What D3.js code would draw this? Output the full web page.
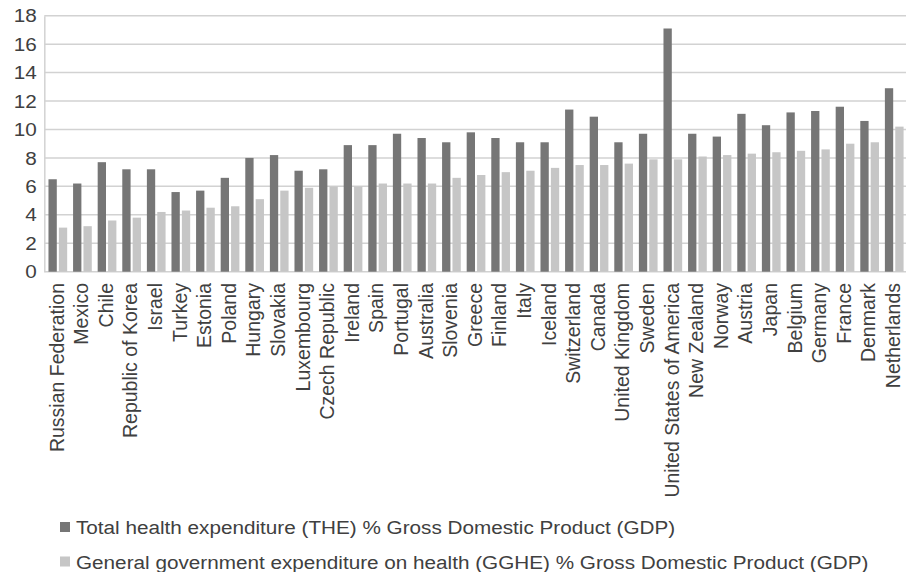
<!DOCTYPE html>
<html>
<head>
<meta charset="utf-8">
<script src="https://cdn.jsdelivr.net/npm/d3@7"></script>
<style>
  body { margin: 0; background: #fff; }
  svg text { font-family: "Liberation Sans", Arial, sans-serif; fill: #404040; }
</style>
</head>
<body>
<svg id="chart" width="906" height="572"></svg>
<script>
var countries = [
  "Russian Federation", "Mexico", "Chile", "Republic of Korea", "Israel",
  "Turkey", "Estonia", "Poland", "Hungary", "Slovakia", "Luxembourg",
  "Czech Republic", "Ireland", "Spain", "Portugal", "Australia", "Slovenia",
  "Greece", "Finland", "Italy", "Iceland", "Switzerland", "Canada",
  "United Kingdom", "Sweden", "United States of America", "New Zealand",
  "Norway", "Austria", "Japan", "Belgium", "Germany", "France", "Denmark",
  "Netherlands"
];

// THE % GDP
var theValues = [
  6.5, 6.2, 7.7, 7.2, 7.2, 5.6, 5.7, 6.6, 8.0, 8.2, 7.1,
  7.2, 8.9, 8.9, 9.7, 9.4, 9.1, 9.8, 9.4, 9.1, 9.1, 11.4,
  10.9, 9.1, 9.7, 17.1, 9.7, 9.5, 11.1, 10.3, 11.2, 11.3,
  11.6, 10.6, 12.9
];

// GGHE % GDP
var gghValues = [
  3.1, 3.2, 3.6, 3.8, 4.2, 4.3, 4.5, 4.6, 5.1, 5.7, 5.9,
  6.0, 6.0, 6.2, 6.2, 6.2, 6.6, 6.8, 7.0, 7.1, 7.3, 7.5,
  7.5, 7.6, 7.9, 7.9, 8.1, 8.2, 8.3, 8.4, 8.5, 8.6, 9.0,
  9.1, 10.2
];

var yTicks = [0, 2, 4, 6, 8, 10, 12, 14, 16, 18];

var seriesNames = [
  "Total health expenditure (THE) % Gross Domestic Product (GDP)",
  "General government expenditure on health (GGHE) % Gross Domestic Product (GDP)"
];
var seriesColors = ["#767676", "#c6c6c6"];

// the source picture is a little stretched sideways
var stretch = 1.09;

var svg = d3.select("#chart");

var x = d3.scaleBand()
  .domain(countries)
  .range([44.3, 905.3]);

var sub = d3.scaleBand()
  .domain([0, 1])
  .range([x.bandwidth() * 0.17, x.bandwidth() * 0.93])
  .paddingInner(0.2);

var y = d3.scaleLinear()
  .domain([0, 18])
  .range([271.7, 15.7]);

// gridlines
svg.append("g")
  .selectAll("line")
  .data(yTicks)
  .enter()
  .append("line")
  .attr("x1", 44.3)
  .attr("x2", 906)
  .attr("y1", d => y(d))
  .attr("y2", d => y(d))
  .attr("stroke", "#d2d2d2")
  .attr("stroke-width", 1.5);

// y axis labels
var yAxis = svg.append("g")
  .attr("transform", "translate(44.3,0)")
  .call(d3.axisLeft(y).tickValues(yTicks).tickSize(0).tickPadding(7));
yAxis.select(".domain").attr("stroke", "#d2d2d2").attr("stroke-width", 1.5);
yAxis.selectAll(".tick text")
  .style("font-size", "19px")
  .attr("fill", "#404040")
  .attr("transform", "scale(" + stretch + ",1)");

// bars
var rows = countries.map((c, i) => ({ name: c, vals: [theValues[i], gghValues[i]] }));

var groups = svg.append("g")
  .selectAll("g")
  .data(rows)
  .enter()
  .append("g")
  .attr("transform", d => "translate(" + x(d.name) + ",0)");

groups.selectAll("rect")
  .data(d => d.vals.map((v, k) => ({ k: k, v: v })))
  .enter()
  .append("rect")
  .attr("x", d => sub(d.k))
  .attr("width", sub.bandwidth())
  .attr("y", d => y(d.v))
  .attr("height", d => y(0) - y(d.v))
  .attr("fill", d => seriesColors[d.k]);

// x labels, rotated
svg.append("g")
  .selectAll("text")
  .data(countries)
  .enter()
  .append("text")
  .attr("transform", d => "translate(" + (x(d) + x.bandwidth() / 2 + 7) + ",283) rotate(-90)")
  .attr("text-anchor", "end")
  .style("font-size", "19.5px")
  .text(d => d);

// legend
var legend = svg.append("g")
  .selectAll("g")
  .data(seriesNames)
  .enter()
  .append("g")
  .attr("transform", (d, i) => "translate(60," + (527 + i * 34.5) + ")");

legend.append("rect")
  .attr("x", 0)
  .attr("y", -5)
  .attr("width", 10)
  .attr("height", 10)
  .attr("fill", (d, i) => seriesColors[i]);

legend.append("text")
  .attr("transform", "translate(16,7) scale(" + stretch + ",1)")
  .style("font-size", "19px")
  .text(d => d);
</script>
</body>
</html>
